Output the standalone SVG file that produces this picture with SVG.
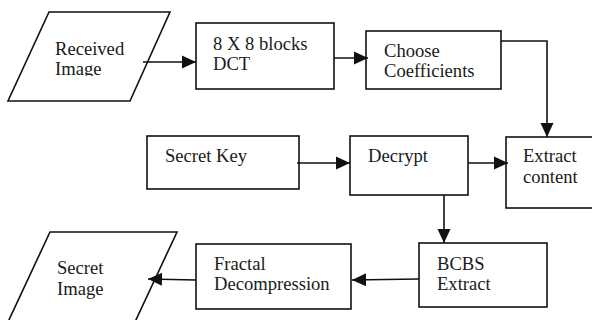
<svg xmlns="http://www.w3.org/2000/svg" width="592" height="320" viewBox="0 0 592 320">
  <defs>
    <style>
      .shape { fill: #fff; stroke: #111; stroke-width: 1.6; }
      .label { font-family: "Liberation Serif", "Times New Roman", serif; font-size: 18.6px; fill: #1a1a1a; }
      .wire { fill: none; stroke: #111; stroke-width: 1.6; }
    </style>
    <marker id="arrow" markerUnits="userSpaceOnUse" markerWidth="15" markerHeight="15" viewBox="0 0 15 15" refX="14" refY="7.5" orient="auto">
      <path d="M0,1 L14,7.5 L0,14 Z" fill="#111"/>
    </marker>
    <clipPath id="recv-clip">
      <rect x="40" y="30" width="100" height="46"/>
    </clipPath>
  </defs>

  <rect width="592" height="320" fill="#fff"/>

  <g id="received-image">
    <polygon class="shape" points="49,12 170,12 130,101 8,101"/>
    <g clip-path="url(#recv-clip)">
      <text class="label" x="55" y="55">Received</text>
      <text class="label" x="55" y="75">Image</text>
    </g>
  </g>

  <g id="dct-blocks">
    <rect class="shape" x="196" y="23" width="138" height="66"/>
    <text class="label" x="213" y="50">8 X 8 blocks</text>
    <text class="label" x="213" y="70">DCT</text>
  </g>

  <g id="choose-coefficients">
    <rect class="shape" x="366" y="31" width="135" height="58"/>
    <text class="label" x="384" y="57">Choose</text>
    <text class="label" x="384" y="77">Coefficients</text>
  </g>

  <g id="secret-key">
    <rect class="shape" x="147" y="136" width="152" height="53"/>
    <text class="label" x="165" y="162">Secret Key</text>
  </g>

  <g id="decrypt">
    <rect class="shape" x="350" y="136" width="118" height="59"/>
    <text class="label" x="368" y="162">Decrypt</text>
  </g>

  <g id="extract-content">
    <rect class="shape" x="506" y="137" width="96" height="71"/>
    <text class="label" x="523" y="162">Extract</text>
    <text class="label" x="523" y="183">content</text>
  </g>

  <g id="bcbs-extract">
    <rect class="shape" x="419" y="243" width="128" height="64"/>
    <text class="label" x="437" y="270">BCBS</text>
    <text class="label" x="437" y="290">Extract</text>
  </g>

  <g id="fractal-decompression">
    <rect class="shape" x="196" y="244" width="155" height="65"/>
    <text class="label" x="214" y="270">Fractal</text>
    <text class="label" x="214" y="290">Decompression</text>
  </g>

  <g id="secret-image">
    <polygon class="shape" points="50,232 177,232 135,322 8,322"/>
    <text class="label" x="57" y="274">Secret</text>
    <text class="label" x="57" y="295">Image</text>
  </g>

  <g id="connectors">
    <line class="wire" x1="143" y1="62" x2="196" y2="62" marker-end="url(#arrow)"/>
    <line class="wire" x1="334" y1="58" x2="368" y2="58" marker-end="url(#arrow)"/>
    <polyline class="wire" points="501,41 547,41 547,137" marker-end="url(#arrow)"/>
    <line class="wire" x1="297" y1="163" x2="350" y2="163" marker-end="url(#arrow)"/>
    <line class="wire" x1="468" y1="163" x2="508" y2="163" marker-end="url(#arrow)"/>
    <line class="wire" x1="444" y1="195" x2="444" y2="243" marker-end="url(#arrow)"/>
    <line class="wire" x1="419" y1="279" x2="352" y2="280" marker-end="url(#arrow)"/>
    <line class="wire" x1="196" y1="280" x2="148" y2="279" marker-end="url(#arrow)"/>
  </g>
</svg>
